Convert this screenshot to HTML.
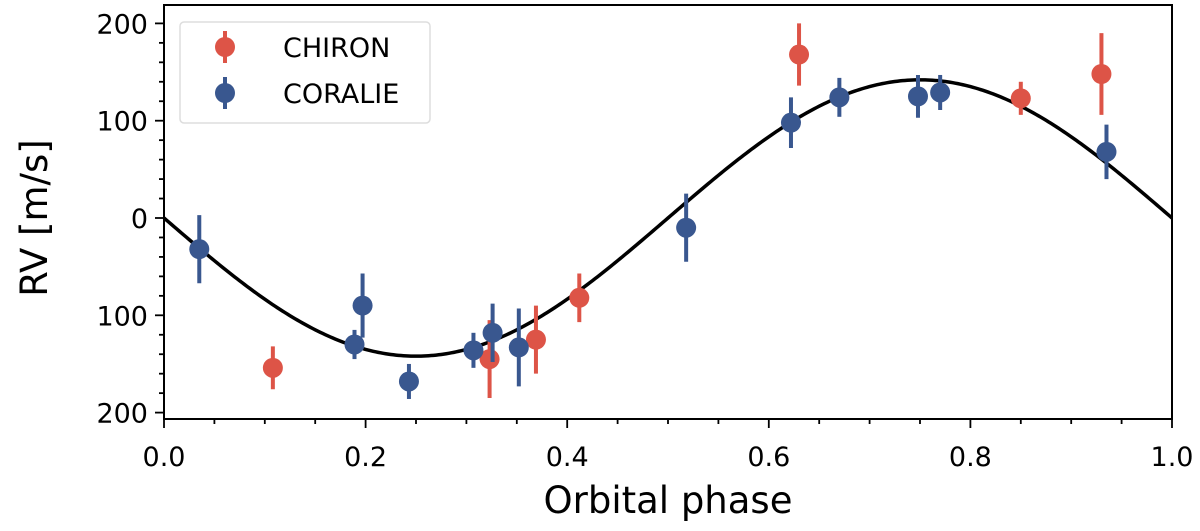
<!DOCTYPE html>
<html><head><meta charset="utf-8"><style>
body{margin:0;background:#fff;}
svg text{font-family:"DejaVu Sans","Liberation Sans",sans-serif;fill:#000;}
</style></head><body>
<svg id="chart" width="1200" height="526" viewBox="0 0 1200 526" xmlns="http://www.w3.org/2000/svg">
<g id="g"></g>
</svg>
<script>
const chironPhase=[0.108,0.323,0.369,0.412,0.630,0.850,0.930];
const chironRV=[-154,-145,-125,-82,168,123,148];
const chironErr=[22,40,35,25,32,17,42];
const coraliePhase=[0.035,0.189,0.197,0.243,0.307,0.326,0.352,0.518,0.622,0.670,0.748,0.770,0.935];
const coralieRV=[-32,-130,-90,-168,-136,-118,-133,-10,98,124,125,129,68];
const coralieErr=[35,15,33,18,18,30,40,35,26,20,22,18,28];
const modelK=142;
const xTicks=[0,0.2,0.4,0.6,0.8,1.0];
const xTickLabels=["0.0","0.2","0.4","0.6","0.8","1.0"];
const yTicks=[200,100,0,-100,-200];
const yTickLabels=["200","100","0","100","200"];

const X0=164,X1=1172,YT=5,YB=419;
const xs=v=>X0+v*(X1-X0);
const ys=v=>218-v*0.973;
const NS="http://www.w3.org/2000/svg";
const g=document.getElementById('g');
function mk(t,a,p){const e=document.createElementNS(NS,t);for(const k in a)e.setAttribute(k,a[k]);(p||g).appendChild(e);return e;}

let d="";
for(let i=0;i<=400;i++){const p=i/400;const v=-modelK*Math.sin(2*Math.PI*p);d+=(i?"L":"M")+xs(p).toFixed(2)+","+ys(v).toFixed(2);}
const curve=mk('path',{d:d,fill:'none',stroke:'#000','stroke-width':3.5});



function series(ph,rv,er,col,name){
  const grp=mk('g',{});
  
  
  for(let i=0;i<ph.length;i++){
    const x=xs(ph[i]);
    const eb=mk('line',{x1:x,x2:x,y1:ys(rv[i]-er[i]),y2:ys(rv[i]+er[i]),stroke:col,'stroke-width':4},grp);
    
    
    const c=mk('circle',{cx:x,cy:ys(rv[i]),r:10,fill:col},grp);
    
    
  }
}
series(chironPhase,chironRV,chironErr,'#dd5447','chiron');
series(coraliePhase,coralieRV,coralieErr,'#39578f','coralie');

const fr=mk('rect',{x:X0,y:YT,width:X1-X0,height:YB-YT,fill:'none',stroke:'#000','stroke-width':2});



for(let v=0;v<=1.0001;v+=0.05){const x=xs(v);const maj=Math.abs(v*5-Math.round(v*5))<1e-6;mk('line',{x1:x,x2:x,y1:YB,y2:YB+(maj?9:5),stroke:'#000','stroke-width':1.8});}
xTicks.forEach((v,i)=>{const t=mk('text',{x:xs(v),y:466,'font-size':27,'text-anchor':'middle'});t.textContent=xTickLabels[i];
});
for(let v=-200;v<=200;v+=20){const y=ys(v);const maj=v%100===0;mk('line',{x1:X0,x2:X0-(maj?9:5),y1:y,y2:y,stroke:'#000','stroke-width':1.8});}
yTicks.forEach((v,i)=>{const t=mk('text',{x:X0-16,y:ys(v)+10,'font-size':27,'text-anchor':'end'});t.textContent=yTickLabels[i];
});

const xt=mk('text',{x:668,y:513,'font-size':37,'text-anchor':'middle'});xt.textContent='Orbital phase';

const yt=mk('text',{x:0,y:0,'font-size':37,'text-anchor':'middle',transform:'translate(47,218) rotate(-90)'});yt.textContent='RV [m/s]';


const lg=mk('g',{});


mk('rect',{x:180,y:22,width:250,height:101,rx:4,fill:'#fff',stroke:'#ddd','stroke-width':1.5},lg);
[['CHIRON','#dd5447',47],['CORALIE','#39578f',93]].forEach(([n,c,y])=>{
  const e=mk('g',{},lg);
  
  
  mk('line',{x1:225,x2:225,y1:y-16,y2:y+16,stroke:c,'stroke-width':4},e);
  mk('circle',{cx:225,cy:y,r:10,fill:c},e);
  const t=mk('text',{x:283,y:y+10,'font-size':27},e);t.textContent=n;
});
</script>
</body></html>
